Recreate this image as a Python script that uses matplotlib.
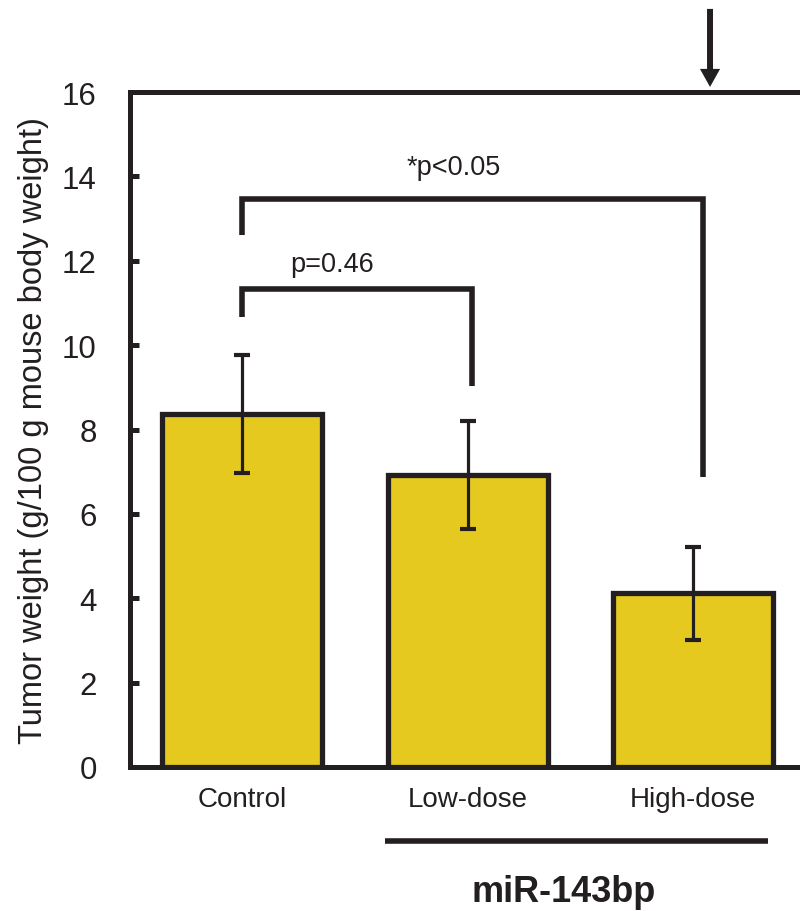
import matplotlib
matplotlib.use("Agg")
import matplotlib.pyplot as plt

plt.rcParams['font.family'] = ['Liberation Sans', 'DejaVu Sans']

categories = ["Control", "Low-dose", "High-dose"]
means = [8.37, 6.92, 4.12]
errors = [1.39, 1.28, 1.10]
yticks = [0, 2, 4, 6, 8, 10, 12, 14, 16]

# brackets: (x_left, x_right, left_leg_bottom, top, right_leg_bottom, label)
brackets = [
    (0, 1, 10.66, 11.33, 9.03, "p=0.46"),
    (0, 2, 12.60, 13.46, 6.87, "*p<0.05"),
]

INK = "#231F20"

fig = plt.figure(figsize=(8.0, 9.12), dpi=100)
ax = fig.add_axes([0.1625, 0.1579, 0.8375, 0.7401])

x = list(range(len(categories)))
ax.bar(x, means, width=0.71, color="#E6C91F", edgecolor=INK,
       linewidth=3.8, zorder=2)
ax.errorbar(x, means, yerr=errors, fmt="none", ecolor=INK,
            elinewidth=2.3, capsize=6, capthick=3, zorder=3)

ax.set_xlim(-0.497, 2.474)
ax.set_ylim(0, 16)
ax.set_yticks(yticks)
ax.set_xticks(x)
ax.set_xticklabels(categories, fontsize=20)
ax.tick_params(axis="y", direction="in", length=6.5, width=3.6, pad=24,
               labelsize=22.5, colors=INK)
ax.tick_params(axis="x", length=0, pad=14)
for lbl in ax.get_xticklabels():
    lbl.set_color(INK)

for s in ["left", "bottom", "top"]:
    ax.spines[s].set_linewidth(3.6)
    ax.spines[s].set_color(INK)
ax.spines["right"].set_visible(False)

ax.set_ylabel("Tumor weight (g/100 g mouse body weight)", fontsize=23.5,
              labelpad=9, color=INK)

offsets = [0.02, 0.045]
for (xl, xr, lb, top, rb, txt), off in zip(brackets, offsets):
    ax.plot([xl, xl, xr + off, xr + off], [lb, top, top, rb],
            color=INK, lw=4.0, solid_joinstyle="miter",
            solid_capstyle="butt", zorder=4, clip_on=False)

label_pos = [(0.40, 11.76), (0.94, 14.06)]
for (xl, xr, lb, top, rb, txt), (tx, ty) in zip(brackets, label_pos):
    ax.text(tx, ty, txt, ha="center", va="baseline", fontsize=19.5,
            color=INK)

# arrow at top
ax.annotate("", xy=(2.075, 16.12), xytext=(2.075, 17.97),
            xycoords="data", textcoords="data",
            arrowprops=dict(width=4.3, headwidth=14.5, headlength=13,
                            color=INK, lw=0, shrink=0),
            annotation_clip=False)

# group underline and label
ax.plot([0.635, 2.33], [-1.75, -1.75], color=INK, lw=4.0,
        clip_on=False, solid_capstyle="butt")
ax.text(1.428, -2.96, "miR-143bp", ha="center", va="center", fontsize=26,
        fontweight="bold", color=INK, clip_on=False)

fig.savefig("out.png", dpi=100)
